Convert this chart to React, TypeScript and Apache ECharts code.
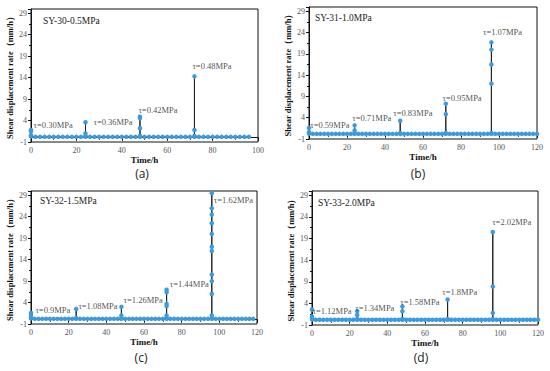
import React, { useEffect, useRef } from "react";
import * as echarts from "echarts";

// ---------- DATA ----------
const PANEL_TITLES = ["SY-30-0.5MPa", "SY-31-1.0MPa", "SY-32-1.5MPa", "SY-33-2.0MPa"];
const PANEL_CAPTIONS = ["(a)", "(b)", "(c)", "(d)"];
const X_MAX = [100, 120, 120, 120];
const Y_MIN = -1;
const Y_MAX = 30;
const Y_STEP = 5;
const X_STEP = 20;

const TIME_A = [
  0, 0, 0, 0, 2, 4, 6, 8, 10, 12, 14, 16, 18, 20, 22,
  24, 24, 24, 24, 26, 28, 30, 32, 34, 36, 38, 40, 42, 44, 46,
  48, 48, 48, 48, 48, 50, 52, 54, 56, 58, 60, 62, 64, 66, 68, 70,
  72, 72, 72, 72, 74, 76, 78, 80, 82, 84, 86, 88, 90, 92, 94, 96,
];
const RATE_A = [
  1.8, 1.5, 0.6, 0.3, 0.2, 0.2, 0.2, 0.2, 0.2, 0.2, 0.2, 0.2, 0.2, 0.2, 0.2,
  0.2, 3.6, 1.0, 0.4, 0.2, 0.2, 0.2, 0.2, 0.2, 0.2, 0.2, 0.2, 0.2, 0.2, 0.2,
  0.2, 4.9, 4.6, 2.2, 0.4, 0.2, 0.2, 0.2, 0.2, 0.2, 0.2, 0.2, 0.2, 0.2, 0.2, 0.2,
  0.2, 14.3, 1.8, 0.4, 0.2, 0.2, 0.2, 0.2, 0.2, 0.2, 0.2, 0.2, 0.2, 0.2, 0.2, 0.2,
];

const TIME_B = [
  0, 0, 0, 2, 4, 6, 8, 10, 12, 14, 16, 18, 20, 22,
  24, 24, 24, 24, 26, 28, 30, 32, 34, 36, 38, 40, 42, 44, 46,
  48, 48, 48, 50, 52, 54, 56, 58, 60, 62, 64, 66, 68, 70,
  72, 72, 72, 72, 74, 76, 78, 80, 82, 84, 86, 88, 90, 92, 94,
  96, 96, 96, 96, 96, 96, 98, 100, 102, 104, 106, 108, 110, 112, 114, 116, 118, 120,
];
const RATE_B = [
  1.6, 0.6, 0.3, 0.2, 0.2, 0.2, 0.2, 0.2, 0.2, 0.2, 0.2, 0.2, 0.2, 0.2,
  0.2, 2.2, 1.0, 0.4, 0.2, 0.2, 0.2, 0.2, 0.2, 0.2, 0.2, 0.2, 0.2, 0.2, 0.2,
  0.2, 3.3, 0.4, 0.2, 0.2, 0.2, 0.2, 0.2, 0.2, 0.2, 0.2, 0.2, 0.2, 0.2,
  0.2, 7.3, 4.8, 0.4, 0.2, 0.2, 0.2, 0.2, 0.2, 0.2, 0.2, 0.2, 0.2, 0.2, 0.2,
  0.2, 21.7, 20.0, 16.5, 12.0, 0.4, 0.2, 0.2, 0.2, 0.2, 0.2, 0.2, 0.2, 0.2, 0.2, 0.2, 0.2, 0.2,
];

const TIME_C = [
  0, 0, 0, 0, 2, 4, 6, 8, 10, 12, 14, 16, 18, 20, 22,
  24, 24, 24, 26, 28, 30, 32, 34, 36, 38, 40, 42, 44, 46,
  48, 48, 48, 48, 50, 52, 54, 56, 58, 60, 62, 64, 66, 68, 70,
  72, 72, 72, 72, 72, 72, 72, 74, 76, 78, 80, 82, 84, 86, 88, 90, 92, 94,
  96, 96, 96, 96, 96, 96, 96, 96, 96, 96, 96, 96, 96, 98, 100, 102, 104, 106, 108, 110, 112, 114, 116, 118,
];
const RATE_C = [
  1.6, 1.2, 0.6, 0.3, 0.2, 0.2, 0.2, 0.2, 0.2, 0.2, 0.2, 0.2, 0.2, 0.2, 0.2,
  0.2, 2.5, 0.4, 0.2, 0.2, 0.2, 0.2, 0.2, 0.2, 0.2, 0.2, 0.2, 0.2, 0.2,
  0.2, 3.0, 1.0, 0.4, 0.2, 0.2, 0.2, 0.2, 0.2, 0.2, 0.2, 0.2, 0.2, 0.2, 0.2,
  0.2, 7.0, 6.4, 3.7, 3.2, 1.0, 0.4, 0.2, 0.2, 0.2, 0.2, 0.2, 0.2, 0.2, 0.2, 0.2, 0.2, 0.2,
  0.2, 29.5, 26.0, 24.5, 22.5, 20.0, 17.0, 16.0, 10.5, 9.0, 6.0, 1.0, 0.4, 0.2, 0.2, 0.2, 0.2, 0.2, 0.2, 0.2, 0.2, 0.2, 0.2, 0.2,
];

const TIME_D = [
  0, 0, 0, 0, 2, 4, 6, 8, 10, 12, 14, 16, 18, 20, 22,
  24, 24, 24, 24, 26, 28, 30, 32, 34, 36, 38, 40, 42, 44, 46,
  48, 48, 48, 48, 50, 52, 54, 56, 58, 60, 62, 64, 66, 68, 70,
  72, 72, 72, 74, 76, 78, 80, 82, 84, 86, 88, 90, 92, 94,
  96, 96, 96, 96, 96, 98, 100, 102, 104, 106, 108, 110, 112, 114, 116, 118, 120,
];
const RATE_D = [
  2.6, 1.0, 0.6, 0.3, 0.2, 0.2, 0.2, 0.2, 0.2, 0.2, 0.2, 0.2, 0.2, 0.2, 0.2,
  0.2, 2.2, 1.3, 0.4, 0.2, 0.2, 0.2, 0.2, 0.2, 0.2, 0.2, 0.2, 0.2, 0.2, 0.2,
  0.2, 3.3, 2.2, 0.4, 0.2, 0.2, 0.2, 0.2, 0.2, 0.2, 0.2, 0.2, 0.2, 0.2, 0.2,
  0.2, 4.9, 0.4, 0.2, 0.2, 0.2, 0.2, 0.2, 0.2, 0.2, 0.2, 0.2, 0.2, 0.2,
  0.2, 20.5, 7.9, 1.8, 0.4, 0.2, 0.2, 0.2, 0.2, 0.2, 0.2, 0.2, 0.2, 0.2, 0.2, 0.2, 0.2,
];

const TAU_A = ["τ=0.30MPa", "τ=0.36MPa", "τ=0.42MPa", "τ=0.48MPa"];
const TAU_B = ["τ=0.59MPa", "τ=0.71MPa", "τ=0.83MPa", "τ=0.95MPa", "τ=1.07MPa"];
const TAU_C = ["τ=0.9MPa", "τ=1.08MPa", "τ=1.26MPa", "τ=1.44MPa", "τ=1.62MPa"];
const TAU_D = ["τ=1.12MPa", "τ=1.34MPa", "τ=1.58MPa", "τ=1.8MPa", "τ=2.02MPa"];

// label anchors in data coordinates [time, rate]
const TAU_AT_A = [[0.9, 2.9], [27.3, 3.6], [47.1, 6.4], [70.9, 16.7]];
const TAU_AT_B = [[0.4, 2.3], [22.5, 3.9], [44.1, 5.1], [70, 8.6], [91.3, 24.2]];
const TAU_AT_C = [[2.1, 2.3], [24.9, 3.1], [48.9, 4.6], [73.4, 8.3], [96.8, 27.8]];
const TAU_AT_D = [[0, 2.2], [22.7, 3.0], [46.6, 4.4], [68.9, 6.7], [95.4, 22.9]];

const TIMES = [TIME_A, TIME_B, TIME_C, TIME_D];
const RATES = [RATE_A, RATE_B, RATE_C, RATE_D];
const TAUS = [TAU_A, TAU_B, TAU_C, TAU_D];
const TAU_ATS = [TAU_AT_A, TAU_AT_B, TAU_AT_C, TAU_AT_D];

// ---------- LAYOUT ----------
const GRIDS = [
  { left: 31, top: 9, width: 227, height: 133 },
  { left: 309, top: 7, width: 228, height: 132 },
  { left: 31, top: 191, width: 226, height: 133 },
  { left: 312, top: 191, width: 226, height: 134 },
];
const TITLE_POS = [
  { left: 43, top: 16 },
  { left: 315, top: 13 },
  { left: 40, top: 196 },
  { left: 318, top: 198 },
];
const CAPTION_POS = [
  { x: 142, y: 173 },
  { x: 418, y: 173 },
  { x: 141, y: 357 },
  { x: 421, y: 357 },
];

const SERIF = "'Liberation Serif', 'Times New Roman', serif";

export default function App() {
  const ref = useRef<HTMLDivElement>(null);
  useEffect(() => {
    if (!ref.current) return;
    const chart = echarts.init(ref.current, undefined, { renderer: "svg" });
    const grid = GRIDS.map((g) => ({
      ...g,
      show: true,
      borderColor: "#111",
      borderWidth: 1,
      containLabel: false,
    }));
    const xAxis = GRIDS.map((_, i) => ({
      type: "value",
      gridIndex: i,
      min: 0,
      max: X_MAX[i],
      interval: X_STEP,
      name: "Time/h",
      nameLocation: "middle",
      nameGap: 13,
      nameTextStyle: { fontFamily: SERIF, fontWeight: "bold", fontSize: 9, color: "#111" },
      axisLine: { show: true, lineStyle: { color: "#111", width: 1 } },
      axisTick: { show: true, inside: false, length: 3, lineStyle: { color: "#111" } },
      minorTick: { show: true, splitNumber: 2, length: 2, lineStyle: { color: "#111" } },
      splitLine: { show: false },
      axisLabel: { fontFamily: SERIF, fontSize: 8, color: "#555", margin: 4 },
    }));
    const yAxis = GRIDS.map((_, i) => ({
      type: "value",
      gridIndex: i,
      min: Y_MIN,
      max: Y_MAX,
      interval: Y_STEP,
      name: "Shear displacement rate（mm/h）",
      nameLocation: "middle",
      nameGap: 17,
      nameTextStyle: { fontFamily: SERIF, fontWeight: "bold", fontSize: 8.5, color: "#111" },
      axisLine: { show: true, lineStyle: { color: "#111", width: 1 } },
      axisTick: { show: true, inside: false, length: 3, lineStyle: { color: "#111" } },
      minorTick: { show: true, splitNumber: 2, length: 2, lineStyle: { color: "#111" } },
      splitLine: { show: false },
      axisLabel: { fontFamily: SERIF, fontSize: 8, color: "#555", margin: 4, showMaxLabel: false },
    }));
    const series: any[] = [];
    TIMES.forEach((times, i) => {
      series.push({
        type: "line",
        xAxisIndex: i,
        yAxisIndex: i,
        data: times.map((t, k) => [t, RATES[i][k]]),
        symbol: "circle",
        symbolSize: 4.5,
        showSymbol: true,
        itemStyle: { color: "#3b9be0" },
        lineStyle: { color: "#222", width: 1 },
        z: 3,
      });
      series.push({
        type: "scatter",
        xAxisIndex: i,
        yAxisIndex: i,
        symbolSize: 1,
        itemStyle: { color: "rgba(0,0,0,0)" },
        data: TAU_ATS[i].map((p, k) => ({ value: p, name: TAUS[i][k] })),
        label: {
          show: true,
          position: "right",
          distance: 0,
          formatter: (p: any) => p.name,
          fontFamily: SERIF,
          fontSize: 8.5,
          color: "#222",
        },
        labelLayout: { hideOverlap: false },
        z: 5,
      });
    });
    const title = PANEL_TITLES.map((t, i) => ({
      text: t,
      left: TITLE_POS[i].left,
      top: TITLE_POS[i].top,
      padding: 0,
      textStyle: { fontFamily: SERIF, fontSize: 9.5, fontWeight: "normal", color: "#222" },
    }));
    const graphic = PANEL_CAPTIONS.map((c, i) => ({
      type: "text",
      x: CAPTION_POS[i].x,
      y: CAPTION_POS[i].y,
      style: {
        text: c,
        fontFamily: "'Open Sans', 'Noto Sans', sans-serif",
        fontSize: 12,
        fill: "#222",
        textAlign: "center",
        textVerticalAlign: "middle",
      },
    }));
    chart.setOption({
      animation: false,
      backgroundColor: "#fff",
      title,
      grid,
      xAxis,
      yAxis,
      series,
      graphic,
    });
    return () => chart.dispose();
  }, []);
  return (
    <div
      ref={ref}
      style={{ position: "absolute", left: 0, top: 0, width: 550, height: 371, background: "#fff" }}
    />
  );
}
